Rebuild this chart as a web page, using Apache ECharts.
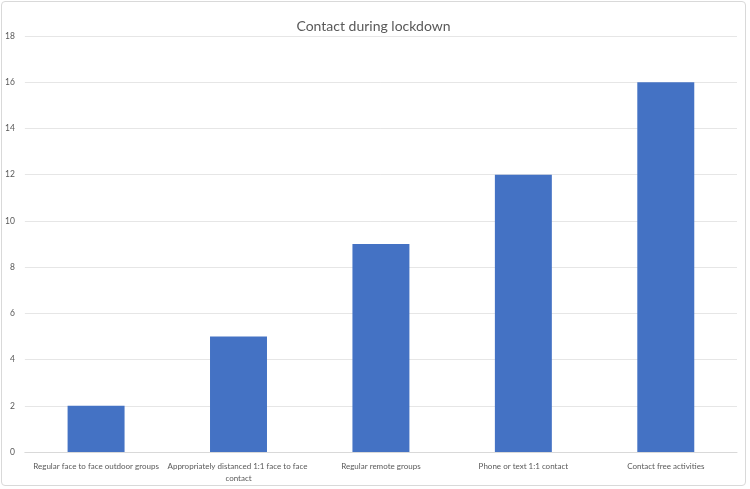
<!DOCTYPE html>
<html><head><meta charset="utf-8">
<script src="https://cdn.jsdelivr.net/npm/echarts@6/dist/echarts.min.js"></script>
<style>
html,body{margin:0;padding:0;background:#fff;}
#c{position:absolute;left:1px;top:1px;width:745px;height:485px;border:1px solid #d9d9d9;border-radius:4px;box-sizing:border-box;}
</style></head>
<body><div id="c"></div>
<script>
const categories = ["Regular face to face outdoor groups","Appropriately distanced 1:1 face to face contact","Regular remote groups","Phone or text 1:1 contact","Contact free activities"];
const values = [2,5,9,12,16];
const chart = echarts.init(document.getElementById('c'));
const font = "Lato, 'Open Sans', sans-serif";
chart.setOption({
  animation:false,
  title:{text:"Contact during lockdown",left:'center',top:12,textStyle:{fontFamily:font,fontSize:14,fontWeight:'normal',color:'#595959'}},
  grid:{left:22,right:8,top:34,bottom:33},
  xAxis:{type:'category',data:categories,
    axisLine:{lineStyle:{color:'#d9d9d9'}},axisTick:{show:false},
    axisLabel:{interval:0,fontFamily:font,fontSize:8,color:'#595959',width:143,overflow:'break',lineHeight:12,margin:8}},
  yAxis:{type:'value',min:0,max:18,interval:2,
    axisLine:{show:false},axisTick:{show:false},
    splitLine:{lineStyle:{color:'#e6e6e6'}},
    axisLabel:{fontFamily:font,fontSize:8.5,color:'#595959',margin:10}},
  series:[{type:'bar',data:values,barWidth:'40%',itemStyle:{color:'#4472c4'}}]
});
</script></body></html>
